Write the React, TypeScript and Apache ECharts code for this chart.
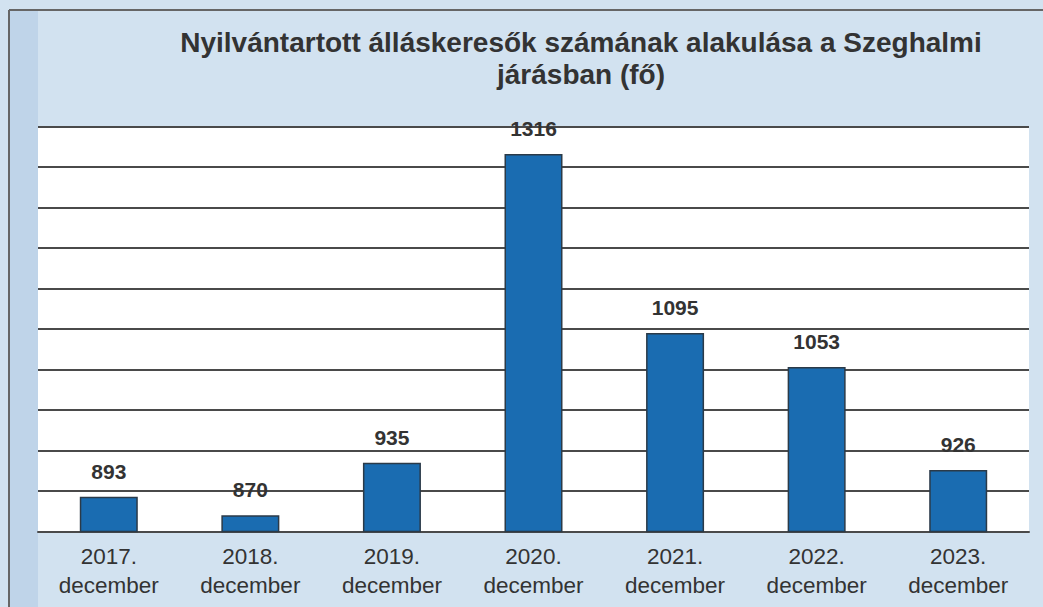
import React, { useEffect, useRef } from "react";
import * as echarts from "echarts";

const categories = [
  "2017.\ndecember",
  "2018.\ndecember",
  "2019.\ndecember",
  "2020.\ndecember",
  "2021.\ndecember",
  "2022.\ndecember",
  "2023.\ndecember",
];
const values = [893, 870, 935, 1316, 1095, 1053, 926];
const titleText = "Nyilvántartott álláskeresők számának alakulása a Szeghalmi\njárásban (fő)";

export default function App() {
  const ref = useRef<HTMLDivElement>(null);
  useEffect(() => {
    document.body.style.margin = "0";
    const chart = echarts.init(ref.current!, null, { renderer: "svg" });
    chart.setOption({
      animation: false,
      backgroundColor: "#d2e2f0",
      title: {
        text: titleText,
        left: 576,
        top: 21,
        textAlign: "center",
        textStyle: {
          fontFamily: "Liberation Sans, Arial, sans-serif",
          fontSize: 28,
          fontWeight: "bold",
          lineHeight: 32,
          color: "#333333",
        },
      },
      graphic: [
        {
          type: "rect",
          shape: { x: 10, y: 11, width: 28, height: 600 },
          style: { fill: "#bfd4e9" },
          silent: true,
        },
        {
          type: "line",
          shape: { x1: 9, y1: 10, x2: 9, y2: 607 },
          style: { stroke: "#666666", lineWidth: 2 },
          silent: true,
        },
        {
          type: "line",
          shape: { x1: 9, y1: 10, x2: 1043, y2: 10 },
          style: { stroke: "#666666", lineWidth: 2 },
          silent: true,
        },
      ],
      grid: {
        left: 38,
        right: 14,
        top: 126.5,
        bottom: 75.5,
        show: true,
        backgroundColor: "#ffffff",
        borderWidth: 0,
      },
      xAxis: {
        type: "category",
        data: categories,
        axisTick: { show: false },
        axisLine: { show: true, lineStyle: { color: "#4a4a4a", width: 2 } },
        axisLabel: {
          fontFamily: "Liberation Sans, Arial, sans-serif",
          fontSize: 22.5,
          lineHeight: 28.5,
          color: "#333333",
          margin: 11,
        },
      },
      yAxis: {
        type: "value",
        min: 850,
        max: 1350,
        interval: 50,
        axisLabel: { show: false },
        axisLine: { show: false },
        axisTick: { show: false },
        splitLine: { lineStyle: { color: "#4a4a4a", width: 2 } },
      },
      series: [
        {
          type: "bar",
          data: values,
          barWidth: 58,
          itemStyle: { color: "#1a6cb1", borderColor: "#2b3a48", borderWidth: 1.5 },
          label: {
            show: true,
            position: "top",
            distance: 15,
            fontFamily: "Liberation Sans, Arial, sans-serif",
            fontSize: 21,
            fontWeight: "bold",
            color: "#333333",
          },
        },
      ],
    });
    return () => chart.dispose();
  }, []);
  return (
    <div
      ref={ref}
      style={{ position: "fixed", left: 0, top: 0, width: 1043, height: 607 }}
    />
  );
}
